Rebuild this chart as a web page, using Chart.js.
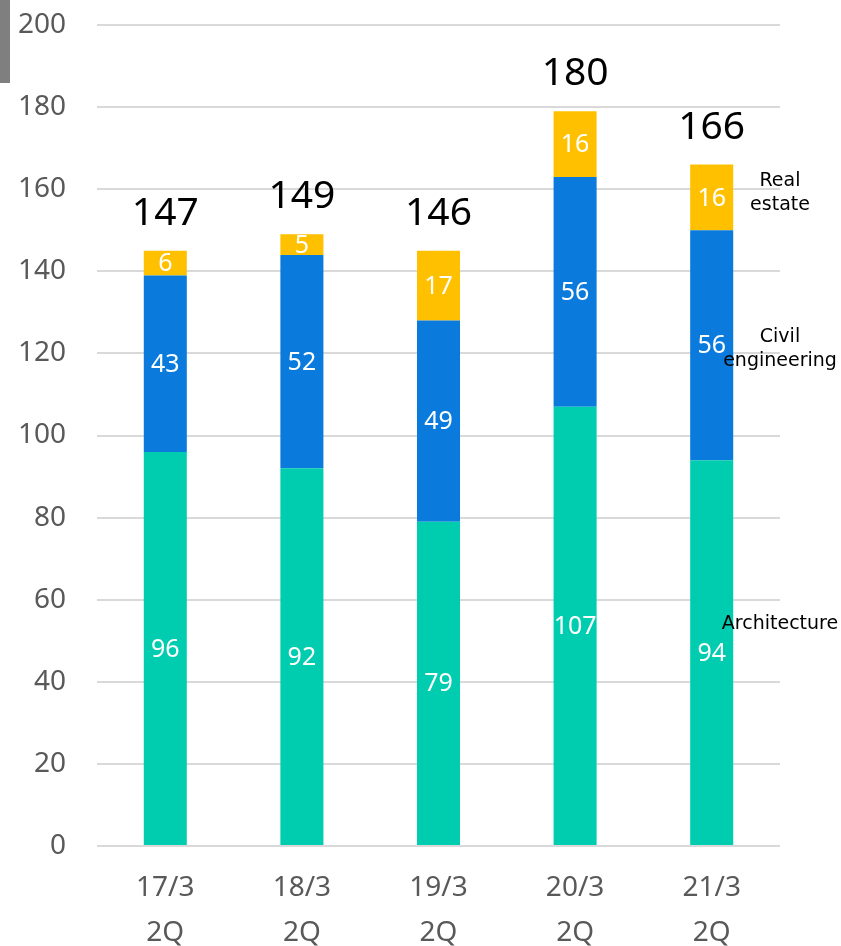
<!DOCTYPE html>
<html>
<head>
<meta charset="utf-8">
<script src="https://cdn.jsdelivr.net/npm/chart.js@4/dist/chart.umd.min.js"></script>
<style>
  body { margin: 0; background: #fff; }
  .wrap { position: relative; width: 841px; height: 946px; }
  .side-mark { position: absolute; left: 0; top: 0; width: 10px; height: 83px; background: #7f7f7f; }
</style>
</head>
<body>
<div class="wrap">
  <div class="side-mark"></div>
  <canvas id="sales" width="841" height="946"></canvas>
</div>
<script>
// data
var categories = [["17/3", "2Q"], ["18/3", "2Q"], ["19/3", "2Q"], ["20/3", "2Q"], ["21/3", "2Q"]];
var architecture = [96, 92, 79, 107, 94];
var civil = [43, 52, 49, 56, 56];
var realEstate = [6, 5, 17, 16, 16];
var totals = [147, 149, 146, 180, 166];
var seriesNames = [["Architecture"], ["Civil", "engineering"], ["Real", "estate"]];
var seriesNameAt = [54, 121, 159]; // y value of each side caption

/**
 * Labels - segment values, totals over the bars, series captions on the right.
 */
var barLabels = {
  id: "barLabels",
  afterDatasetsDraw: function (chart) {
    var ctx = chart.ctx;
    var y = chart.scales.y;
    ctx.save();
    ctx.textAlign = "center";
    ctx.textBaseline = "middle";

    ctx.fillStyle = "#fff";
    ctx.font = "25px 'Noto Sans'";
    chart.data.datasets.forEach(function (ds, d) {
      chart.getDatasetMeta(d).data.forEach(function (bar, i) {
        ctx.fillText(ds.data[i], bar.x, (bar.y + bar.base) / 2 + 1);
      });
    });

    ctx.fillStyle = "#000";
    ctx.font = "39px 'Noto Sans'";
    var top = chart.getDatasetMeta(chart.data.datasets.length - 1).data;
    top.forEach(function (bar, i) {
      ctx.fillText(totals[i], bar.x, bar.y - 37);
    });

    ctx.font = "19px 'DejaVu Sans'";
    var cx = chart.chartArea.right;
    seriesNames.forEach(function (lines, s) {
      var cy = y.getPixelForValue(seriesNameAt[s]) - (lines.length - 1) * 12;
      lines.forEach(function (t, k) {
        ctx.fillText(t, cx, cy + k * 24);
      });
    });
    ctx.restore();
  }
};

var ctx = document.getElementById("sales").getContext("2d");

var salesChart = new Chart(ctx, {
  type: "bar",
  data: {
    labels: categories,
    datasets: [
      { label: "Architecture", data: architecture, backgroundColor: "#00cdb0" },
      { label: "Civil engineering", data: civil, backgroundColor: "#0a7bdc" },
      { label: "Real estate", data: realEstate, backgroundColor: "#ffc000" }
    ]
  },
  options: {
    responsive: false,
    animation: false,
    layout: { padding: { top: 25, right: 61, left: 0, bottom: 0 } },
    datasets: { bar: { barPercentage: 0.315, categoryPercentage: 1 } },
    plugins: { legend: { display: false }, tooltip: { enabled: false } },
    scales: {
      x: {
        stacked: true,
        grid: { display: false, drawTicks: false },
        border: { display: false },
        ticks: { color: "#595959", font: { family: "Noto Sans", size: 28, lineHeight: 1.6 }, padding: 20, maxRotation: 0 },
        afterFit: function (s) { s.height = 100; s.paddingLeft = 0; s.paddingRight = 0; }
      },
      y: {
        stacked: true,
        min: 0,
        max: 200,
        grid: { color: "#d9d9d9", lineWidth: 2, drawTicks: false },
        border: { display: false },
        ticks: { stepSize: 20, color: "#595959", font: { family: "Noto Sans", size: 28 }, padding: 31 },
        afterFit: function (s) { s.width = 97; s.paddingTop = 0; s.paddingBottom = 0; }
      }
    }
  },
  plugins: [barLabels]
});
</script>
</body>
</html>
